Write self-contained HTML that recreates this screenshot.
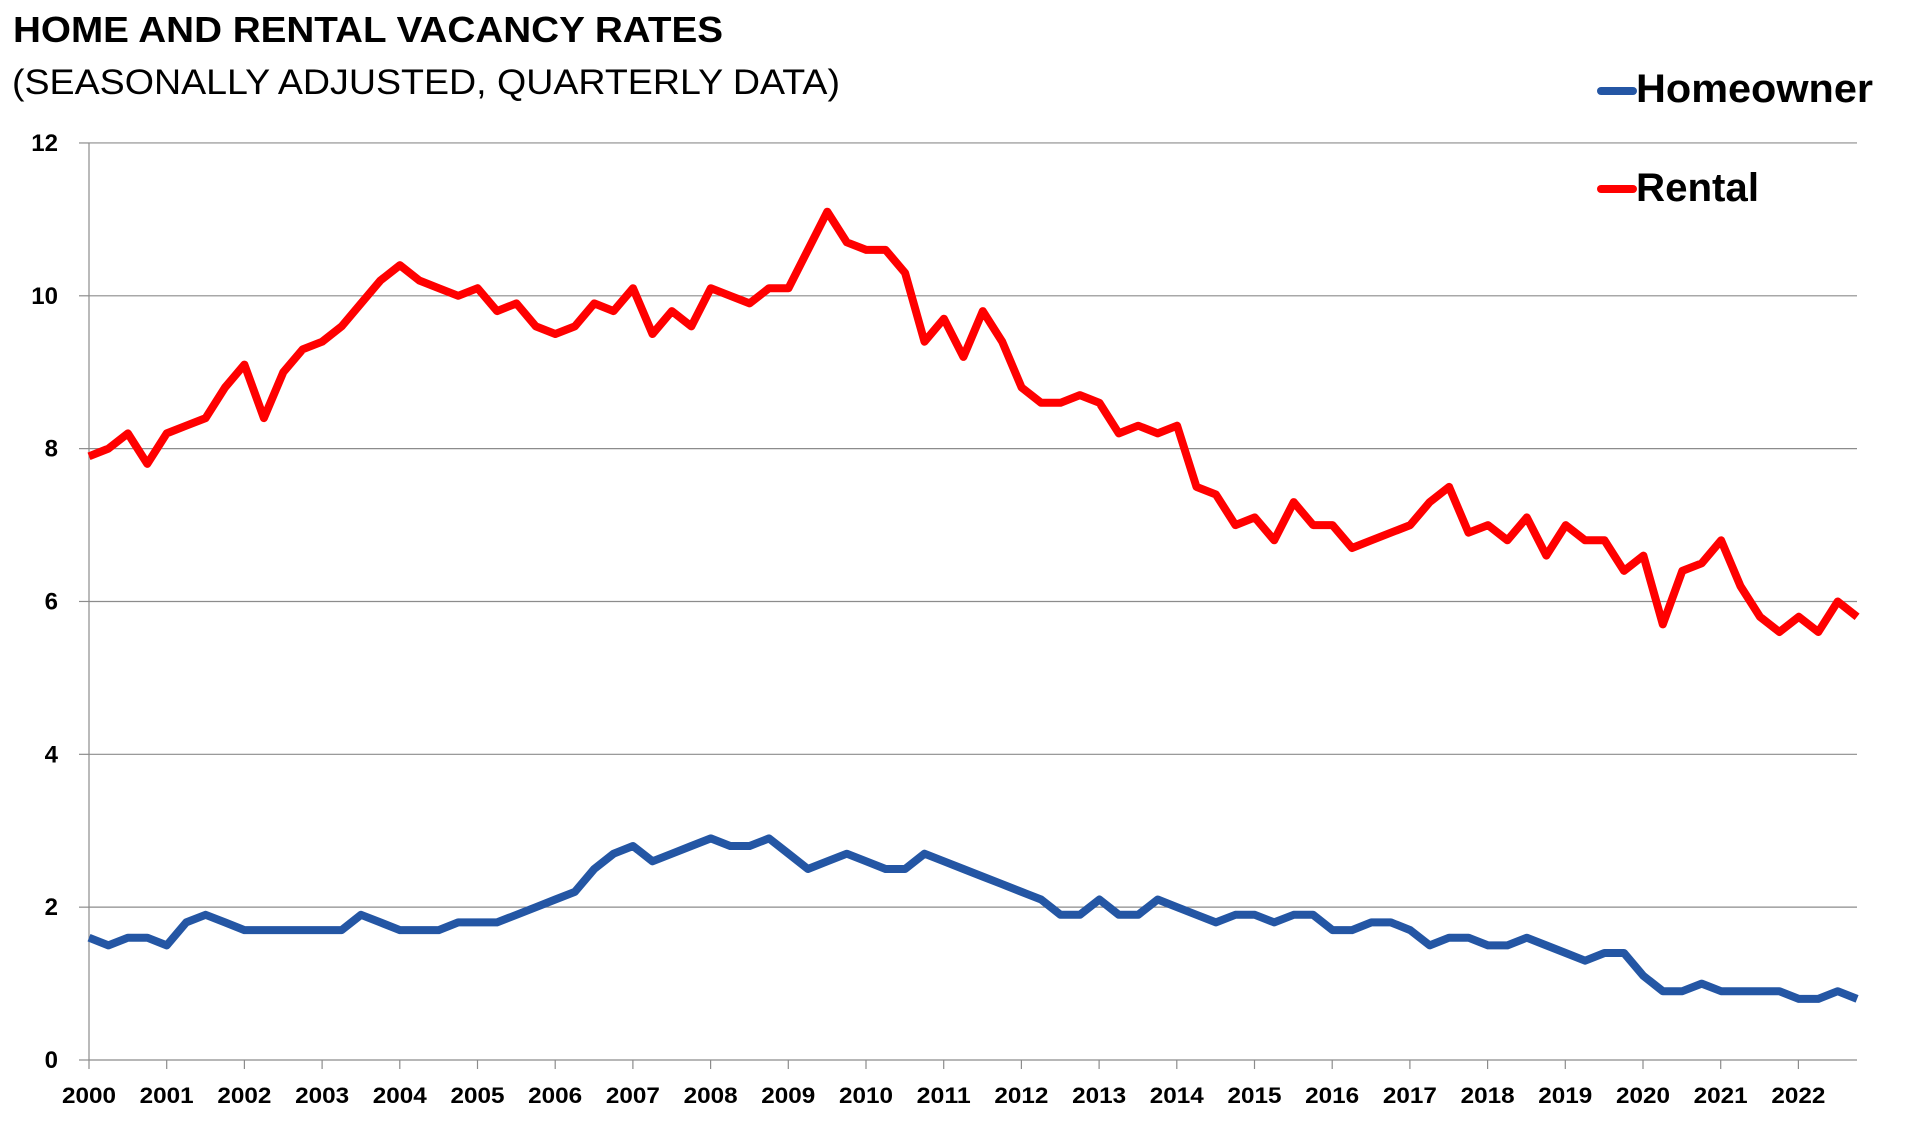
<!DOCTYPE html>
<html><head><meta charset="utf-8"><style>
html,body{margin:0;padding:0;background:#fff;}
svg{display:block;font-family:"Liberation Sans",sans-serif;}
</style></head><body>
<svg id="c" width="1905" height="1143" viewBox="0 0 1905 1143" xmlns="http://www.w3.org/2000/svg">
<rect width="1905" height="1143" fill="#fff"/>
<text x="13" y="42" font-size="36" font-weight="bold" textLength="710" lengthAdjust="spacingAndGlyphs">HOME AND RENTAL VACANCY RATES</text>
<text x="12" y="94" font-size="35" textLength="828" lengthAdjust="spacingAndGlyphs">(SEASONALLY ADJUSTED, QUARTERLY DATA)</text>
<g id="grid"></g>
<g id="series"></g>
<line x1="1601" y1="91" x2="1633" y2="91" stroke="#2456a4" stroke-width="8" stroke-linecap="round"/>
<text x="1636" y="102" font-size="40" font-weight="bold" textLength="237" lengthAdjust="spacingAndGlyphs">Homeowner</text>
<line x1="1601" y1="189" x2="1633" y2="189" stroke="#ff0000" stroke-width="8" stroke-linecap="round"/>
<text x="1636" y="201" font-size="40" font-weight="bold" textLength="123" lengthAdjust="spacingAndGlyphs">Rental</text>
</svg>
<script>
var NS="http://www.w3.org/2000/svg";
function el(t,a,p,txt){var e=document.createElementNS(NS,t);for(var k in a)e.setAttribute(k,a[k]);if(txt!=null)e.textContent=txt;p.appendChild(e);return e;}
var g=document.getElementById('grid'),s=document.getElementById('series');
function Y(v){return 1060-v*76.42;}
for(var v=2;v<=12;v+=2){el('line',{x1:89,x2:1857,y1:Y(v),y2:Y(v),stroke:'#8c8c8c','stroke-width':1.2},g);}
for(var v=0;v<=12;v+=2){el('line',{x1:79,x2:89,y1:Y(v),y2:Y(v),stroke:'#8c8c8c','stroke-width':1.2},g);
el('text',{x:58,y:Y(v)+8,'font-size':24,'font-weight':'bold','text-anchor':'end'},g,String(v));}
el('line',{x1:89,x2:1857,y1:1060,y2:1060,stroke:'#8c8c8c','stroke-width':1.2},g);
el('line',{x1:89,x2:89,y1:143,y2:1060,stroke:'#8c8c8c','stroke-width':1.2},g);
for(var k=0;k<=22;k++){var x=89+k*77.7;el('line',{x1:x,x2:x,y1:1060,y2:1069,stroke:'#8c8c8c','stroke-width':1.2},g);
el('text',{x:x,y:1103,'font-size':22,'font-weight':'bold','text-anchor':'middle',textLength:54,lengthAdjust:'spacingAndGlyphs'},g,String(2000+k));}
var R=[7.9,8.0,8.2,7.8,8.2,8.3,8.4,8.8,9.1,8.4,9.0,9.3,9.4,9.6,9.9,10.2,10.4,10.2,10.1,10.0,10.1,9.8,9.9,9.6,9.5,9.6,9.9,9.8,10.1,9.5,9.8,9.6,10.1,10.0,9.9,10.1,10.1,10.6,11.1,10.7,10.6,10.6,10.3,9.4,9.7,9.2,9.8,9.4,8.8,8.6,8.6,8.7,8.6,8.2,8.3,8.2,8.3,7.5,7.4,7.0,7.1,6.8,7.3,7.0,7.0,6.7,6.8,6.9,7.0,7.3,7.5,6.9,7.0,6.8,7.1,6.6,7.0,6.8,6.8,6.4,6.6,5.7,6.4,6.5,6.8,6.2,5.8,5.6,5.8,5.6,6.0,5.8];
var H=[1.6,1.5,1.6,1.6,1.5,1.8,1.9,1.8,1.7,1.7,1.7,1.7,1.7,1.7,1.9,1.8,1.7,1.7,1.7,1.8,1.8,1.8,1.9,2.0,2.1,2.2,2.5,2.7,2.8,2.6,2.7,2.8,2.9,2.8,2.8,2.9,2.7,2.5,2.6,2.7,2.6,2.5,2.5,2.7,2.6,2.5,2.4,2.3,2.2,2.1,1.9,1.9,2.1,1.9,1.9,2.1,2.0,1.9,1.8,1.9,1.9,1.8,1.9,1.9,1.7,1.7,1.8,1.8,1.7,1.5,1.6,1.6,1.5,1.5,1.6,1.5,1.4,1.3,1.4,1.4,1.1,0.9,0.9,1.0,0.9,0.9,0.9,0.9,0.8,0.8,0.9,0.8];
function pts(a){return a.map(function(v,i){return (89+i*19.43).toFixed(1)+','+Y(v).toFixed(1);}).join(' ');}
el('polyline',{points:pts(H),fill:'none',stroke:'#2456a4','stroke-width':8,'stroke-linejoin':'round'},s);
el('polyline',{points:pts(R),fill:'none',stroke:'#ff0000','stroke-width':8,'stroke-linejoin':'round'},s);
</script>
</body></html>
